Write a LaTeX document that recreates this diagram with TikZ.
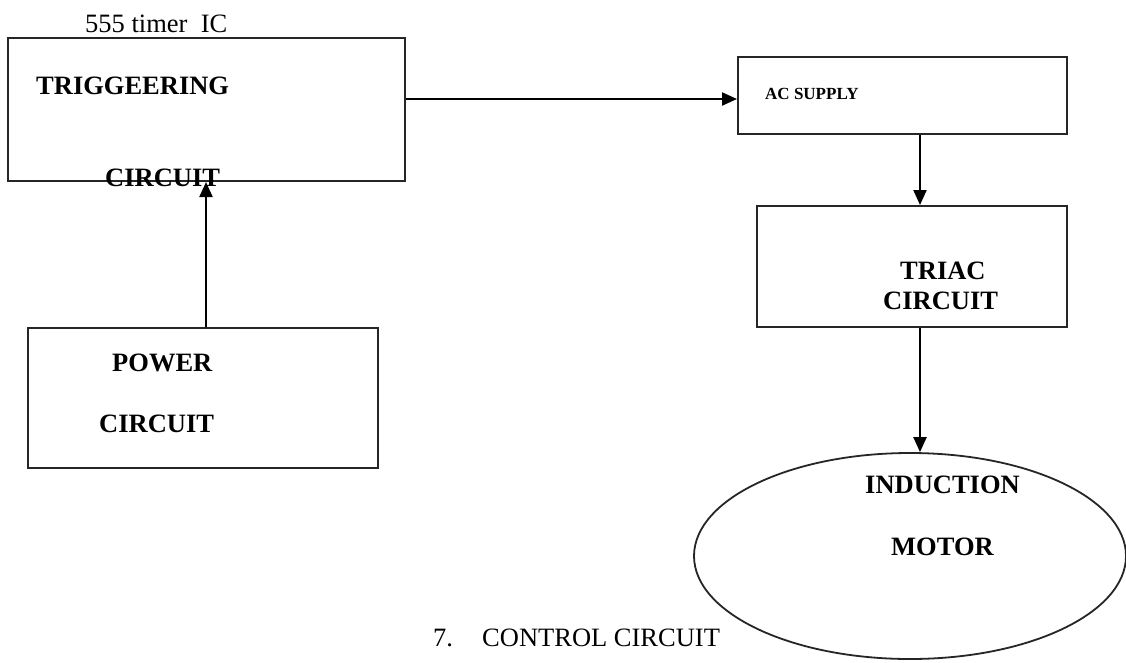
\documentclass[tikz,border=0pt]{standalone}
\usepackage{fontspec}
\setmainfont{Liberation Serif}
\usetikzlibrary{arrows.meta,shapes.geometric}
\begin{document}
\begin{tikzpicture}[x=1pt,y=-1pt,
  box/.style={draw=black!85,line width=2pt,rectangle,inner sep=0pt},
  oval/.style={draw=black!85,line width=1.8pt,ellipse,inner sep=0pt},
  arr/.style={draw=black,line width=2.2pt,-{Triangle[length=15pt,width=13pt]}},
  lbl/.style={font=\fontsize{26.5}{30}\selectfont\bfseries,inner sep=0pt,anchor=west},
  plain/.style={font=\fontsize{26.5}{30}\selectfont,inner sep=0pt,anchor=west},
  small/.style={font=\fontsize{17}{20}\selectfont\bfseries,inner sep=0pt,anchor=west}]
\useasboundingbox[fill=white] (0,0) rectangle (1126,662);

% boxes
\node[box,minimum width=397pt,minimum height=143pt] (trig) at (206.5,109.5) {};
\node[box,minimum width=329pt,minimum height=77pt] (ac) at (902.5,95.5) {};
\node[box,minimum width=310pt,minimum height=121pt] (triac) at (912,266.5) {};
\node[box,minimum width=350pt,minimum height=140pt] (power) at (203,398) {};
\node[oval,minimum width=432pt,minimum height=206pt] (motor) at (910,556) {};

% labels
\node[plain] (ic) at (85,24) {555 timer\ \ IC};
\node[lbl] (t1) at (36,85.5) {TRIGGEERING};
\node[lbl] (t2) at (105,177.5) {CIRCUIT};
\node[small] (acl) at (765,93.5) {AC SUPPLY};
\node[lbl] (r1) at (900,271) {TRIAC};
\node[lbl] (r2) at (883,301) {CIRCUIT};
\node[lbl] (p1l) at (112,362.5) {POWER};
\node[lbl] (p2l) at (99,424) {CIRCUIT};
\node[lbl] (m1) at (865,485) {INDUCTION};
\node[lbl] (m2) at (891,547) {MOTOR};
\node[plain] (num) at (433,638) {7.};
\node[plain] (cap) at (482,638) {CONTROL CIRCUIT};

% connectors
\coordinate (ya) at (0,99);
\coordinate (xa) at (920,0);
\coordinate (xp) at (206,0);
\draw[arr] (trig.east |- ya) -- (ac.west |- ya);
\draw[arr] (ac.south -| xa) -- (triac.north -| xa);
\draw[arr] (triac.south -| xa) -- (motor.north -| xa);
\draw[arr] (power.north -| xp) -- (trig.south -| xp);
\end{tikzpicture}
\end{document}
